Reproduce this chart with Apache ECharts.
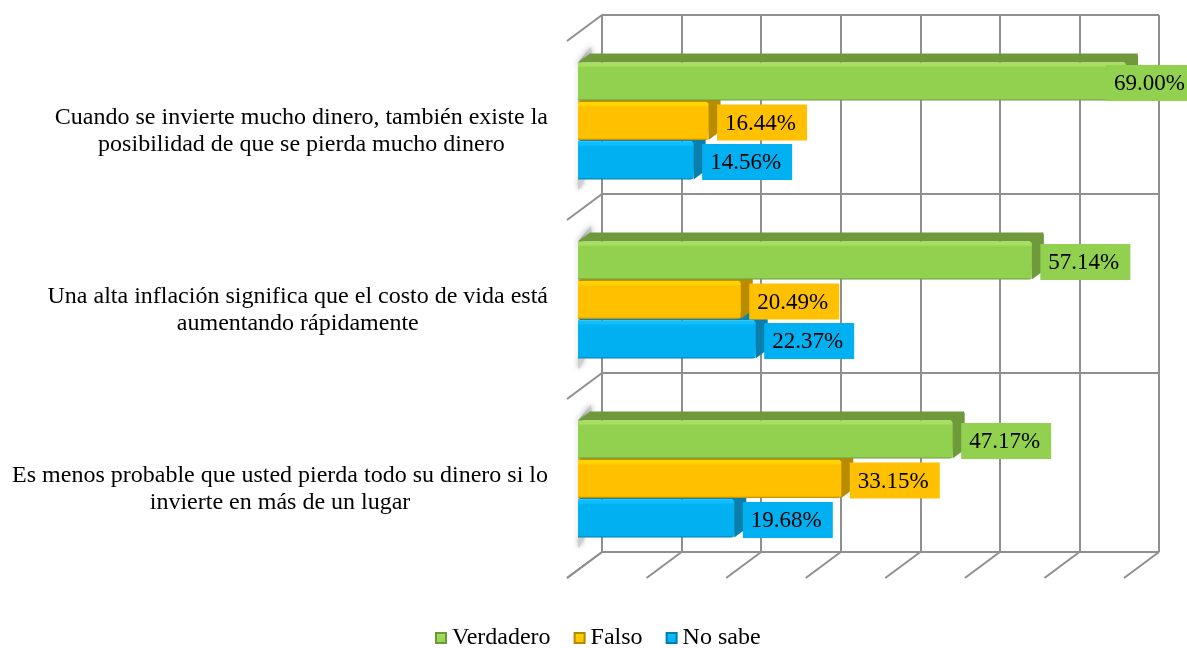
<!DOCTYPE html>
<html>
<head>
<meta charset="utf-8">
<title>Chart</title>
<style>
html, body { margin: 0; padding: 0; background: #fff; overflow: hidden; }
#chart { width: 1187px; height: 648px; }
</style>
<script src="https://cdn.jsdelivr.net/npm/echarts@6/dist/echarts.min.js"></script>
</head>
<body>
<div id="chart"></div>
<script>
const categories = [
  ['Cuando se invierte mucho dinero, también existe la', 'posibilidad de que se pierda mucho dinero'],
  ['Una alta inflación significa que el costo de vida está', 'aumentando rápidamente'],
  ['Es menos probable que usted pierda todo su dinero si lo', 'invierte en más de un lugar'],
];
const verdadero = [69.0, 57.14, 47.17];
const falso = [16.44, 20.49, 33.15];
const noSabe = [14.56, 22.37, 19.68];
const xTicks = [0, 10, 20, 30, 40, 50, 60, 70];
const wallLevels = [0, 1, 2, 3];

const FONT = '"Liberation Serif", "Times New Roman", serif';
const GRID_COLOR = '#8f8f8f';
const DEPTH_X = 12;
const DEPTH_Y = 9;
const BAR_PITCH = 39.5;
const BAR_HEIGHT = 38;
const LABEL_W = 90;
const LABEL_H = 36;

const chart = echarts.init(document.getElementById('chart'));

function vertical(stops) {
  return { type: 'linear', x: 0, y: 0, x2: 0, y2: 1, colorStops: stops };
}

// Draws one 3D bar with its label box, slot is -1, 0 or 1 inside the category band
function barRenderer(slot, palette) {
  return function (params, api) {
    const value = api.value(0);
    const end = api.coord([value, api.value(1)]);
    const start = api.coord([0, api.value(1)]);
    const top = end[1] + slot * BAR_PITCH - BAR_HEIGHT / 2;
    const x0 = start[0];
    const x1 = end[0];
    const bottom = top + BAR_HEIGHT;

    // the chart edge pushes a long label back inside the page
    const boxX = Math.min(x1 + 8.5, api.getWidth() - 81);
    const boxW = Math.min(LABEL_W, api.getWidth() - boxX);
    const boxY = top + 2.5;

    return {
      type: 'group',
      children: [
        {
          type: 'polygon',
          shape: { points: [[x0, top], [x0 + DEPTH_X, top - DEPTH_Y], [x1 + DEPTH_X, top - DEPTH_Y], [x1, top]] },
          style: { fill: palette.top },
        },
        {
          type: 'polygon',
          shape: { points: [[x1 - 2, top], [x1 + DEPTH_X - 1, top - DEPTH_Y], [x1 + DEPTH_X, top - DEPTH_Y + 2], [x1 + DEPTH_X, bottom - DEPTH_Y], [x1, bottom]] },
          style: { fill: palette.side },
        },
        {
          type: 'rect',
          shape: { x: x0, y: top, width: x1 - x0, height: BAR_HEIGHT, r: [0, 3, 3, 0] },
          style: {
            fill: vertical([
              { offset: 0, color: palette.light },
              { offset: 0.08, color: palette.light },
              { offset: 0.14, color: palette.main },
              { offset: 0.95, color: palette.main },
              { offset: 1, color: palette.dark },
            ]),
          },
        },
        {
          type: 'rect',
          z2: 20,
          shape: { x: boxX, y: boxY, width: boxW, height: LABEL_H },
          style: { fill: palette.main },
        },
        {
          type: 'text',
          z2: 21,
          style: {
            x: boxX + 8,
            y: boxY + LABEL_H / 2 + 1,
            text: value.toFixed(2) + '%',
            fill: '#000',
            font: '23px ' + FONT,
            textAlign: 'left',
            textVerticalAlign: 'middle',
          },
        },
      ],
    };
  };
}

// Blurred sliver on the side wall, next to the bars of each group
function shadowRenderer(params, api) {
  const p = api.coord([0, api.value(0)]);
  const top = p[1] - BAR_PITCH - BAR_HEIGHT / 2;
  const bottom = p[1] + BAR_PITCH + BAR_HEIGHT / 2;
  const x = p[0];
  return {
    type: 'group',
    children: [
      {
        type: 'polygon',
        shape: { points: [[x, top], [x + 13, top - 16], [x + 14, top - 9], [x + 2, top + 2]] },
        style: {
          fill: {
            type: 'linear', x: 0, y: 1, x2: 1, y2: 0,
            colorStops: [{ offset: 0, color: '#8f8f8f' }, { offset: 1, color: '#d8d8d8' }],
          },
          shadowBlur: 6,
          shadowColor: 'rgba(0,0,0,0.35)',
        },
      },
      {
        type: 'polygon',
        shape: { points: [[x, top], [x + 1, top], [x + 1, bottom], [x + 7, bottom], [x + 1, bottom + 10], [x, bottom + 10]] },
        style: { fill: '#cfcfcf', shadowBlur: 5, shadowColor: 'rgba(0,0,0,0.3)' },
      },
    ],
  };
}

// Receding lines of the floor and of the side wall, taken from the back grid
function floorRenderer(params, api) {
  const p = api.coord([api.value(0), 0]);
  return {
    type: 'line',
    shape: { x1: p[0], y1: p[1], x2: p[0] - 35, y2: p[1] + 26 },
    style: { stroke: GRID_COLOR, lineWidth: 2 },
  };
}

function wallRenderer(params, api) {
  const p = api.coord([0, api.value(0)]);
  return {
    type: 'line',
    shape: { x1: p[0], y1: p[1], x2: p[0] - 35, y2: p[1] + 26 },
    style: { stroke: GRID_COLOR, lineWidth: 2 },
  };
}

const green = { main: '#92d050', light: '#a6e05e', dark: '#6c9a3b', top: '#70993c', side: '#6f9a3c' };
const orange = { main: '#ffc000', light: '#ffd400', dark: '#b58a00', top: '#c29200', side: '#b98c00' };
const blue = { main: '#00b0f0', light: '#0cc0ff', dark: '#007fae', top: '#0a84b3', side: '#0a7fab' };

function legendMarker(palette) {
  return {
    color: vertical([
      { offset: 0, color: palette.light },
      { offset: 1, color: palette.main },
    ]),
    borderColor: palette.dark,
    borderWidth: 2,
  };
}

const option = {
  animation: false,
  backgroundColor: '#fff',
  textStyle: { fontFamily: FONT },
  legend: {
    left: 435,
    top: 626,
    padding: 0,
    itemWidth: 10,
    itemHeight: 10,
    itemGap: 23,
    textStyle: { fontFamily: FONT, fontSize: 24, color: '#000', padding: [0, 0, 0, 1] },
    data: [
      { name: 'Verdadero', icon: 'rect', itemStyle: legendMarker(green) },
      { name: 'Falso', icon: 'rect', itemStyle: legendMarker(orange) },
      { name: 'No sabe', icon: 'rect', itemStyle: legendMarker(blue) },
    ],
  },
  grid: [
    { left: 578, top: 31.5, width: 556, height: 537 },
    { left: 602, top: 15, width: 557, height: 537 },
  ],
  xAxis: [
    { gridIndex: 0, type: 'value', min: 0, max: 70, interval: 10, show: false },
    {
      gridIndex: 1, type: 'value', min: 0, max: 70, interval: 10,
      axisLabel: { show: false }, axisTick: { show: false }, axisLine: { show: false },
      splitLine: { show: true, lineStyle: { color: GRID_COLOR, width: 2 } },
    },
  ],
  yAxis: [
    {
      gridIndex: 0,
      type: 'category',
      inverse: true,
      data: categories.map((lines) => lines.join('\n')),
      axisLine: { show: false },
      axisTick: { show: false },
      axisLabel: {
        margin: 30,
        padding: [21, 0, 0, 0],
        formatter: (text) => text.split('\n').map((line) => `{c|${line}}`).join('\n'),
        rich: { c: { fontFamily: FONT, fontSize: 24, color: '#000', align: 'center', lineHeight: 27 } },
      },
    },
    {
      gridIndex: 1, type: 'value', min: 0, max: 3, interval: 1,
      axisLabel: { show: false }, axisTick: { show: false }, axisLine: { show: false },
      splitLine: { show: true, lineStyle: { color: GRID_COLOR, width: 2 } },
    },
  ],
  series: [
    {
      type: 'custom', name: 'floor', xAxisIndex: 1, yAxisIndex: 1, z: 1, silent: true,
      renderItem: floorRenderer, data: xTicks.map((t) => [t]), encode: { x: 0 },
    },
    {
      type: 'custom', name: 'wall', xAxisIndex: 1, yAxisIndex: 1, z: 1, silent: true,
      renderItem: wallRenderer, data: wallLevels.map((l) => [l]), encode: { y: 0 },
    },
    {
      type: 'custom', name: 'shadow', xAxisIndex: 0, yAxisIndex: 0, z: 2, silent: true,
      renderItem: shadowRenderer, data: categories.map((c, i) => [i]), encode: { y: 0 },
    },
    {
      type: 'custom', name: 'Verdadero', xAxisIndex: 0, yAxisIndex: 0, z: 5,
      renderItem: barRenderer(-1, green), itemStyle: { color: green.main },
      data: verdadero.map((v, i) => [v, i]), encode: { x: 0, y: 1 },
    },
    {
      type: 'custom', name: 'Falso', xAxisIndex: 0, yAxisIndex: 0, z: 4,
      renderItem: barRenderer(0, orange), itemStyle: { color: orange.main },
      data: falso.map((v, i) => [v, i]), encode: { x: 0, y: 1 },
    },
    {
      type: 'custom', name: 'No sabe', xAxisIndex: 0, yAxisIndex: 0, z: 3,
      renderItem: barRenderer(1, blue), itemStyle: { color: blue.main },
      data: noSabe.map((v, i) => [v, i]), encode: { x: 0, y: 1 },
    },
  ],
};

chart.setOption(option);
</script>
</body>
</html>
